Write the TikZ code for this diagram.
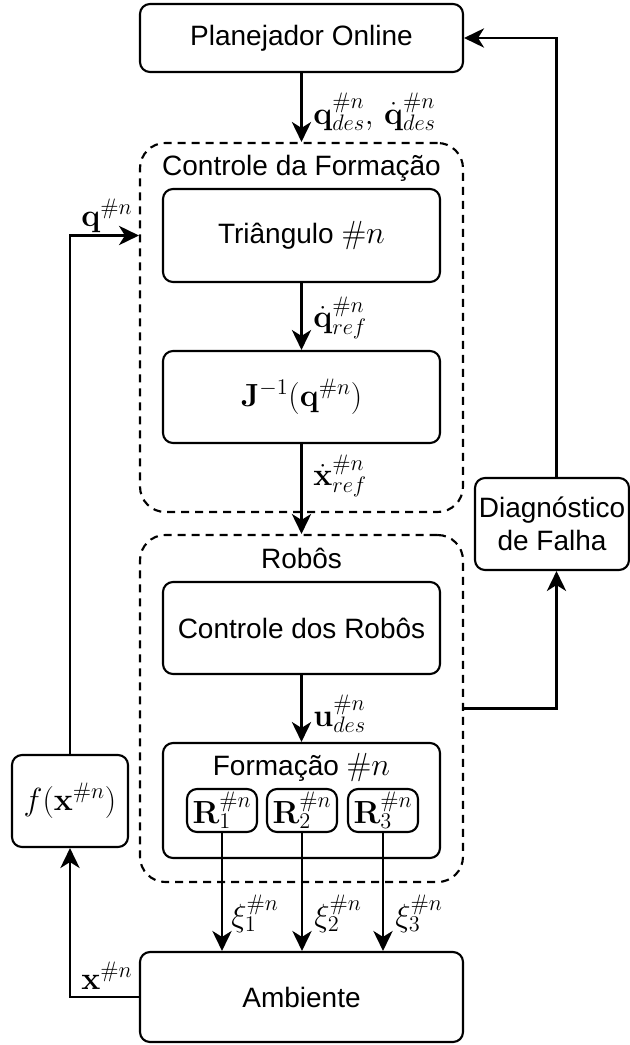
\RequirePackage{fix-cm}
\documentclass[tikz,border=0pt]{standalone}
\usepackage[no-math]{fontspec}
\setmainfont{Liberation Sans}
\usetikzlibrary{arrows.meta,calc}
\newcommand{\mth}[1]{{\fontsize{24}{28}\selectfont$#1$}}
\begin{document}
\begin{tikzpicture}[x=0.75pt,y=-0.75pt,
  font=\fontsize{21}{24.5}\selectfont,
  box/.style={draw,line width=1.6pt,rounded corners=7.5pt,align=center,inner sep=2pt},
  grp/.style={draw,line width=1.6pt,dash pattern=on 6pt off 4.5pt,rounded corners=19pt},
  lbl/.style={inner sep=0pt,anchor=west},
  conn/.style={line width=1.6pt,-{Stealth[length=15pt,width=14.5pt,inset=4.5pt]}}]
\useasboundingbox (0,0) rectangle (630,1045);
% groups
\node[grp,minimum width=242.25pt,minimum height=276.75pt] (ctrlF) at (301.5,327.5) {};
\node[grp,minimum width=242.25pt,minimum height=260.25pt] (robos) at (301.5,708.5) {};
\node (tctrl) at (301.5,168) {Controle da Formação};
\node (trob) at (301.5,558) {Robôs};
% boxes
\node[box,minimum width=242.25pt,minimum height=51pt] (plan) at (301.5,38) {Planejador Online};
\node[box,minimum width=207.75pt,minimum height=69.75pt] (tri) at (301.5,235.5) {Triângulo \mth{\#n}};
\node[box,minimum width=207.75pt,minimum height=69pt] (jac) at (301.5,397) {\mth{\mathbf{J}^{-1}(\mathbf{q}^{\#n})}};
\node[box,minimum width=207.75pt,minimum height=69pt] (crob) at (301.5,628) {Controle dos Robôs};
\node[box,minimum width=207.75pt,minimum height=86.25pt] (form) at (301.5,800.5) {};
\node (tform) at (301.5,767) {Formação \mth{\#n}};
\node[box,inner sep=0pt,minimum width=52.5pt,minimum height=32.25pt] (r1) at (222,810.5) {\mth{\mathbf{R}_1^{\#n}}};
\node[box,inner sep=0pt,minimum width=52.5pt,minimum height=32.25pt] (r2) at (302,810.5) {\mth{\mathbf{R}_2^{\#n}}};
\node[box,inner sep=0pt,minimum width=52.5pt,minimum height=32.25pt] (r3) at (383,810.5) {\mth{\mathbf{R}_3^{\#n}}};
\node[box,minimum width=242.25pt,minimum height=67.5pt] (amb) at (301.5,997) {Ambiente};
\node[box,minimum width=87pt,minimum height=69pt] (fx) at (70,801) {\mth{f(\mathbf{x}^{\#n})}};
\node[box,minimum width=115.5pt,minimum height=69pt] (diag) at (552,524) {Diagnóstico\\de Falha};
% connectors
\draw[conn] (plan.south) -- (ctrlF.north);
\draw[conn] (tri.south) -- (jac.north);
\draw[conn] (jac.south) -- (robos.north);
\draw[conn] (crob.south) -- (form.north);
\draw[conn] (r1.south) -- (r1.south |- amb.north);
\draw[conn] (r2.south) -- (r2.south |- amb.north);
\draw[conn] (r3.south) -- (r3.south |- amb.north);
\draw[conn] (amb.west) -| (fx.south);
\draw[conn] (fx.north) |- (ctrlF.west |- tri.west);
\draw[conn] (robos.east) -| ($(diag.south)+(4.5,0)$);
\draw[conn] ($(diag.north)+(4.5,0)$) |- (plan.east);
% labels
\node[lbl] (lqd) at (313,112) {\mth{\mathbf{q}_{des}^{\#n},\,\dot{\mathbf{q}}_{des}^{\#n}}};
\node[lbl] (lqr) at (313,318) {\mth{\dot{\mathbf{q}}_{ref}^{\#n}}};
\node[lbl] (lxr) at (313,476) {\mth{\dot{\mathbf{x}}_{ref}^{\#n}}};
\node[lbl] (lud) at (313,714) {\mth{\mathbf{u}_{des}^{\#n}}};
\node[lbl] (lx1) at (231,914) {\mth{\xi_1^{\#n}}};
\node[lbl] (lx2) at (314,914) {\mth{\xi_2^{\#n}}};
\node[lbl] (lx3) at (395,914) {\mth{\xi_3^{\#n}}};
\node[lbl] (lq) at (81,216) {\mth{\mathbf{q}^{\#n}}};
\node[lbl] (lx) at (81,976) {\mth{\mathbf{x}^{\#n}}};
\end{tikzpicture}
\end{document}
